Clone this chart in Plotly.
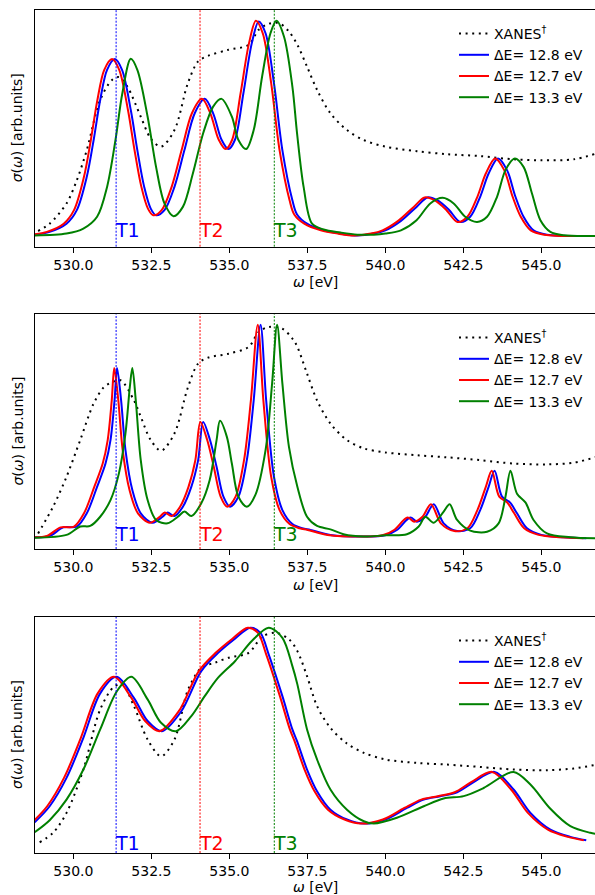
import plotly.graph_objects as go

# ---------------- data (energy eV, normalized intensity) ----------------
T_LINES = [531.37, 534.06, 536.44]
T_LABELS = ["T1", "T2", "T3"]
T_COLORS = ["blue", "red", "green"]

SERIES_NAMES = ["XANES<sup>†</sup>", "ΔE= 12.8 eV", "ΔE= 12.7 eV", "ΔE= 13.3 eV"]

P1_XANES = [(528.87, 0.023), (529.24, 0.057), (529.78, 0.151), (530.11, 0.259), (530.43, 0.399),
            (530.86, 0.632), (531.24, 0.725), (531.46, 0.738), (531.73, 0.694), (532.16, 0.554),
            (532.48, 0.453), (532.81, 0.415), (533.24, 0.492), (533.67, 0.71), (534.0, 0.811),
            (534.32, 0.837), (534.97, 0.865), (535.62, 0.888), (535.94, 0.958), (536.26, 0.986),
            (536.59, 0.989), (536.91, 0.95), (537.18, 0.888), (537.49, 0.787), (537.81, 0.679),
            (538.24, 0.57), (538.77, 0.492), (539.3, 0.446), (540.0, 0.415), (541.01, 0.394),
            (541.98, 0.38), (543.04, 0.371), (544.11, 0.356), (545.0, 0.352), (546.04, 0.356),
            (546.78, 0.384)]
P1_BLUE = [(528.76, 0.006), (529.24, 0.019), (529.78, 0.057), (530.11, 0.12), (530.43, 0.275),
           (530.65, 0.446), (530.86, 0.632), (531.08, 0.772), (531.33, 0.822), (531.56, 0.772),
           (531.84, 0.585), (532.05, 0.399), (532.27, 0.228), (532.48, 0.127), (532.65, 0.096),
           (532.92, 0.12), (533.24, 0.228), (533.56, 0.399), (533.89, 0.57), (534.21, 0.637),
           (534.48, 0.57), (534.75, 0.447), (534.97, 0.404), (535.18, 0.447), (535.45, 0.663),
           (535.72, 0.896), (535.94, 0.997), (536.16, 0.942), (536.43, 0.71), (536.7, 0.398),
           (537.02, 0.166), (537.17, 0.1), (537.49, 0.057), (538.02, 0.026), (538.56, 0.011),
           (539.1, 0.002), (539.63, 0.011), (540.0, 0.026), (540.5, 0.07), (541.0, 0.135),
           (541.35, 0.179), (541.66, 0.166), (542.03, 0.123), (542.4, 0.065), (542.72, 0.089),
           (543.04, 0.182), (543.31, 0.29), (543.61, 0.36), (543.9, 0.306), (544.17, 0.182),
           (544.43, 0.089), (544.75, 0.026), (545.18, 0.006), (546.44, 0.0)]
P1_RED = [(528.67, 0.006), (529.15, 0.019), (529.69, 0.057), (530.02, 0.12), (530.34, 0.275),
          (530.56, 0.446), (530.77, 0.632), (530.99, 0.772), (531.24, 0.822), (531.47, 0.772),
          (531.75, 0.585), (531.96, 0.399), (532.18, 0.228), (532.39, 0.127), (532.56, 0.096),
          (532.83, 0.12), (533.15, 0.228), (533.47, 0.399), (533.8, 0.57), (534.12, 0.637),
          (534.39, 0.57), (534.66, 0.447), (534.88, 0.404), (535.09, 0.447), (535.36, 0.663),
          (535.63, 0.896), (535.85, 1.0), (536.07, 0.942), (536.34, 0.71), (536.61, 0.398),
          (536.93, 0.166), (537.08, 0.1), (537.4, 0.057), (537.93, 0.026), (538.47, 0.011),
          (539.01, 0.002), (539.54, 0.011), (539.91, 0.026), (540.41, 0.07), (540.91, 0.135),
          (541.26, 0.179), (541.57, 0.166), (541.94, 0.123), (542.31, 0.065), (542.63, 0.089),
          (542.95, 0.182), (543.22, 0.29), (543.52, 0.36), (543.81, 0.306), (544.08, 0.182),
          (544.34, 0.089), (544.66, 0.026), (545.09, 0.006), (546.35, 0.0)]
P1_GREEN = [(528.76, 0.002), (529.78, 0.011), (530.32, 0.034), (530.76, 0.089), (531.08, 0.228),
            (531.35, 0.446), (531.57, 0.663), (531.84, 0.823), (532.05, 0.772), (532.38, 0.554),
            (532.65, 0.321), (532.92, 0.151), (533.21, 0.092), (533.51, 0.135), (533.83, 0.29),
            (534.16, 0.477), (534.48, 0.601), (534.75, 0.637), (535.08, 0.554), (535.29, 0.446),
            (535.54, 0.404), (535.78, 0.492), (536.05, 0.741), (536.32, 0.943), (536.51, 1.0),
            (536.75, 0.927), (537.02, 0.694), (537.17, 0.477), (537.38, 0.228), (537.65, 0.057),
            (538.02, 0.03), (538.56, 0.016), (539.1, 0.006), (539.63, 0.006), (540.0, 0.011),
            (540.5, 0.026), (541.0, 0.073), (541.44, 0.151), (541.84, 0.177), (542.19, 0.151),
            (542.56, 0.089), (542.94, 0.065), (543.26, 0.089), (543.58, 0.182), (543.85, 0.306),
            (544.15, 0.36), (544.43, 0.321), (544.7, 0.197), (544.97, 0.073), (545.29, 0.019),
            (545.72, 0.003), (546.78, 0.0)]

P2_XANES = [(528.87, 0.023), (529.35, 0.148), (529.78, 0.288), (530.22, 0.46), (530.65, 0.631),
            (530.97, 0.706), (531.19, 0.727), (531.51, 0.74), (531.94, 0.646), (532.16, 0.569),
            (532.48, 0.46), (532.81, 0.41), (533.24, 0.491), (533.67, 0.706), (534.0, 0.818),
            (534.32, 0.846), (534.97, 0.864), (535.62, 0.896), (535.94, 0.966), (536.26, 0.989),
            (536.7, 0.981), (537.02, 0.935), (537.18, 0.896), (537.49, 0.771), (537.81, 0.646),
            (538.24, 0.537), (538.77, 0.46), (539.31, 0.421), (540.0, 0.402), (541.01, 0.389),
            (541.98, 0.379), (543.04, 0.366), (544.11, 0.35), (545.18, 0.346), (546.04, 0.354),
            (546.78, 0.382)]
P2_BLUE = [(528.76, 0.005), (529.24, 0.011), (529.68, 0.051), (530.11, 0.055), (530.43, 0.117),
           (530.76, 0.241), (531.03, 0.35), (531.19, 0.46), (531.32, 0.646), (531.4, 0.797),
           (531.53, 0.646), (531.67, 0.413), (531.89, 0.226), (532.16, 0.117), (532.54, 0.073),
           (532.86, 0.101), (533.02, 0.121), (533.24, 0.104), (533.51, 0.148), (533.78, 0.241),
           (534.0, 0.366), (534.16, 0.545), (534.38, 0.46), (534.59, 0.335), (534.81, 0.195),
           (535.02, 0.148), (535.29, 0.195), (535.56, 0.366), (535.78, 0.646), (536.0, 1.0),
           (536.18, 0.646), (536.43, 0.288), (536.7, 0.132), (537.02, 0.067), (537.34, 0.047),
           (537.6, 0.039), (538.24, 0.016), (539.31, 0.008), (540.0, 0.014), (540.37, 0.039),
           (540.8, 0.098), (541.01, 0.078), (541.28, 0.101), (541.55, 0.16), (541.87, 0.07),
           (542.3, 0.034), (542.72, 0.047), (543.04, 0.132), (543.31, 0.241), (543.5, 0.316),
           (543.74, 0.195), (544.0, 0.167), (544.22, 0.117), (544.54, 0.047), (545.0, 0.016),
           (545.72, 0.005), (546.44, 0.0)]
P2_RED = [(528.67, 0.005), (529.15, 0.011), (529.59, 0.051), (530.02, 0.055), (530.34, 0.117),
          (530.67, 0.241), (530.94, 0.35), (531.1, 0.46), (531.23, 0.646), (531.31, 0.797),
          (531.44, 0.646), (531.58, 0.413), (531.8, 0.226), (532.07, 0.117), (532.45, 0.073),
          (532.77, 0.101), (532.93, 0.121), (533.15, 0.104), (533.42, 0.148), (533.69, 0.241),
          (533.91, 0.366), (534.07, 0.545), (534.29, 0.46), (534.5, 0.335), (534.72, 0.195),
          (534.93, 0.148), (535.2, 0.195), (535.47, 0.366), (535.69, 0.646), (535.91, 1.0),
          (536.09, 0.646), (536.34, 0.288), (536.61, 0.132), (536.93, 0.067), (537.25, 0.047),
          (537.51, 0.039), (538.15, 0.016), (539.22, 0.008), (539.91, 0.014), (540.28, 0.039),
          (540.71, 0.098), (540.92, 0.078), (541.19, 0.101), (541.46, 0.16), (541.78, 0.07),
          (542.21, 0.034), (542.63, 0.047), (542.95, 0.132), (543.22, 0.241), (543.41, 0.316),
          (543.65, 0.195), (543.91, 0.167), (544.13, 0.117), (544.45, 0.047), (544.91, 0.016),
          (545.63, 0.005), (546.35, 0.0)]
P2_GREEN = [(528.76, 0.003), (529.78, 0.016), (530.22, 0.055), (530.54, 0.058), (530.86, 0.101),
            (531.19, 0.179), (531.46, 0.304), (531.67, 0.491), (531.81, 0.709), (531.89, 0.797),
            (532.0, 0.646), (532.16, 0.366), (532.38, 0.179), (532.65, 0.086), (533.02, 0.07),
            (533.35, 0.101), (533.56, 0.125), (533.78, 0.104), (534.1, 0.164), (534.37, 0.273),
            (534.59, 0.46), (534.7, 0.55), (534.92, 0.475), (535.08, 0.35), (535.29, 0.195),
            (535.56, 0.148), (535.83, 0.202), (536.16, 0.413), (536.37, 0.724), (536.53, 1.0),
            (536.7, 0.724), (536.91, 0.428), (537.18, 0.241), (537.49, 0.101), (537.81, 0.058),
            (538.24, 0.042), (538.66, 0.019), (539.31, 0.008), (540.0, 0.014), (540.69, 0.019),
            (541.07, 0.055), (541.28, 0.101), (541.55, 0.073), (541.87, 0.125), (542.06, 0.16),
            (542.3, 0.086), (542.72, 0.036), (543.26, 0.031), (543.63, 0.07), (543.85, 0.195),
            (544.01, 0.316), (544.22, 0.209), (544.49, 0.168), (544.75, 0.086), (545.18, 0.023),
            (545.93, 0.005), (546.78, 0.0)]

P3_XANES = [(528.92, 0.0), (529.35, 0.044), (529.78, 0.137), (530.32, 0.339), (530.86, 0.619),
            (531.3, 0.725), (531.57, 0.736), (531.94, 0.635), (532.38, 0.479), (532.81, 0.401),
            (533.24, 0.479), (533.67, 0.709), (534.1, 0.813), (534.54, 0.837), (534.97, 0.86),
            (535.62, 0.883), (536.05, 0.958), (536.48, 0.977), (536.91, 0.946), (537.18, 0.891),
            (537.49, 0.774), (537.81, 0.635), (538.24, 0.533), (538.77, 0.46), (539.31, 0.417),
            (540.0, 0.386), (541.01, 0.37), (541.98, 0.362), (543.04, 0.351), (544.11, 0.339),
            (545.18, 0.336), (546.04, 0.344), (546.78, 0.362)]
P3_BLUE = [(528.76, 0.093), (529.24, 0.168), (529.78, 0.3), (530.32, 0.487), (530.86, 0.694),
           (531.38, 0.771), (531.94, 0.673), (532.38, 0.565), (532.84, 0.518), (533.46, 0.611),
           (534.1, 0.798), (534.64, 0.883), (535.18, 0.949), (535.67, 1.0), (535.99, 0.977),
           (536.26, 0.876), (536.7, 0.681), (537.02, 0.526), (537.17, 0.471), (537.49, 0.339),
           (537.81, 0.238), (538.24, 0.152), (538.77, 0.106), (539.31, 0.087), (540.0, 0.106),
           (540.69, 0.16), (541.23, 0.199), (541.76, 0.215), (542.3, 0.233), (542.83, 0.28),
           (543.5, 0.328), (544.11, 0.246), (544.65, 0.137), (545.29, 0.059), (545.93, 0.025),
           (546.44, 0.009)]
P3_RED = [(528.68, 0.093), (529.16, 0.168), (529.7, 0.3), (530.24, 0.487), (530.78, 0.694),
          (531.3, 0.771), (531.86, 0.673), (532.3, 0.565), (532.76, 0.518), (533.38, 0.611),
          (534.02, 0.798), (534.56, 0.883), (535.1, 0.949), (535.59, 1.0), (535.91, 0.977),
          (536.18, 0.876), (536.62, 0.681), (536.94, 0.526), (537.09, 0.471), (537.41, 0.339),
          (537.73, 0.238), (538.16, 0.152), (538.69, 0.106), (539.23, 0.087), (539.92, 0.106),
          (540.61, 0.16), (541.15, 0.199), (541.68, 0.215), (542.22, 0.233), (542.75, 0.28),
          (543.42, 0.328), (544.03, 0.246), (544.57, 0.137), (545.21, 0.059), (545.85, 0.025),
          (546.36, 0.009)]
P3_GREEN = [(528.76, 0.047), (529.24, 0.103), (529.78, 0.199), (530.32, 0.339), (530.86, 0.526),
            (531.4, 0.705), (531.86, 0.771), (532.38, 0.666), (532.81, 0.557), (533.29, 0.518),
            (533.78, 0.588), (534.21, 0.681), (534.64, 0.767), (535.18, 0.844), (535.72, 0.938),
            (536.26, 1.0), (536.7, 0.953), (537.02, 0.821), (537.18, 0.736), (537.49, 0.526),
            (537.81, 0.386), (538.24, 0.246), (538.77, 0.152), (539.31, 0.098), (539.63, 0.087),
            (540.37, 0.114), (541.23, 0.168), (541.87, 0.204), (542.51, 0.215), (543.15, 0.253),
            (544.11, 0.328), (544.65, 0.269), (545.29, 0.156), (545.93, 0.075), (546.57, 0.044),
            (546.78, 0.039)]

PANELS = [
    [P1_XANES, P1_BLUE, P1_RED, P1_GREEN],
    [P2_XANES, P2_BLUE, P2_RED, P2_GREEN],
    [P3_XANES, P3_BLUE, P3_RED, P3_GREEN],
]
X_RANGE = [528.77, 546.72]
X_TICKS = [530.0, 532.5, 535.0, 537.5, 540.0, 542.5, 545.0]
X_TICK_TEXT = ["530.0", "532.5", "535.0", "537.5", "540.0", "542.5", "545.0"]

# ---------------- styling / layout ----------------
W, H = 595, 895
FONT = "DejaVu Sans"
LINE_COLORS = ["black", "blue", "red", "green"]
PANEL_PX = [(10, 246.7), (314, 549), (617, 853)]
XTITLE_PX = [282, 585, 887]
LEFT_PX = 35
LEGEND_TOP_PX = [18, 322, 625]
TLABEL_FRAC = [0.042, 0.035, 0.013]

fig = go.Figure()
for p, series in enumerate(PANELS):
    sfx = "" if p == 0 else str(p + 1)
    for s, pts in enumerate(series):
        xs = [a for a, b in pts]
        ys = [b for a, b in pts]
        line = dict(color=LINE_COLORS[s], width=2, shape="spline", smoothing=0.9)
        if s == 0:
            line["dash"] = "2px,4.6px"
        fig.add_trace(go.Scatter(x=xs, y=ys, mode="lines", line=line, name=SERIES_NAMES[s],
                                 xaxis="x" + sfx, yaxis="y" + sfx,
                                 legend="legend" + sfx))

annotations = []
shapes = []
for p, (top, bot) in enumerate(PANEL_PX):
    sfx = "" if p == 0 else str(p + 1)
    dom = [1 - bot / H, 1 - top / H]
    fig.layout["xaxis" + sfx] = dict(
        domain=[LEFT_PX / W, 1.0], range=X_RANGE, anchor="y" + sfx, automargin=False,
        showline=True, linecolor="black", linewidth=1, mirror=True,
        ticks="outside", ticklen=5, tickwidth=1, tickcolor="black",
        tickvals=X_TICKS, ticktext=X_TICK_TEXT, showgrid=False, zeroline=False,
        tickfont=dict(family=FONT, size=14, color="black"),
    )
    fig.layout["yaxis" + sfx] = dict(
        domain=dom, range=[-0.05, 1.05], anchor="x" + sfx, automargin=False,
        showline=True, linecolor="black", linewidth=1, mirror=False,
        showticklabels=False, ticks="", showgrid=False, zeroline=False,
    )
    fig.layout["legend" + sfx] = dict(
        x=454 / W, y=1 - LEGEND_TOP_PX[p] / H, xanchor="left", yanchor="top",
        bgcolor="rgba(0,0,0,0)", font=dict(family=FONT, size=14, color="black"),
        tracegroupgap=0, itemwidth=30,
    )
    annotations.append(dict(
        x=17 / W, y=(dom[0] + dom[1]) / 2, xref="paper", yref="paper",
        text="<i>σ</i>(<i>ω</i>) [arb.units]", textangle=-90, showarrow=False,
        font=dict(family=FONT, size=14, color="black"), xanchor="center", yanchor="middle",
    ))
    annotations.append(dict(
        x=(LEFT_PX + W) / 2 / W, y=1 - XTITLE_PX[p] / H, xref="paper", yref="paper",
        text="<i>ω</i> [eV]", showarrow=False,
        font=dict(family=FONT, size=14, color="black"), xanchor="center", yanchor="middle",
    ))
    for tx, tl, tc in zip(T_LINES, T_LABELS, T_COLORS):
        shapes.append(dict(type="line", xref="x" + sfx, yref="y" + sfx + " domain",
                           x0=tx, x1=tx, y0=0, y1=1,
                           line=dict(color=tc, width=1, dash="2px,1.5px")))
        annotations.append(dict(
            x=tx, y=TLABEL_FRAC[p], xref="x" + sfx, yref="y" + sfx + " domain",
            text=tl, showarrow=False, xanchor="left", yanchor="bottom", yshift=-6, xshift=-3,
            font=dict(family=FONT, size=19, color=tc),
        ))

fig.update_layout(
    template="none",
    width=W, height=H, margin=dict(l=0, r=0, t=0, b=0, autoexpand=False),
    paper_bgcolor="white", plot_bgcolor="white",
    annotations=annotations, shapes=shapes, showlegend=True,
)
fig.write_html(
    "out.html",
    config={"displayModeBar": False},
    post_script="document.body.style.margin='0';document.body.style.padding='0';"
                "document.body.style.overflow='hidden';",
)
